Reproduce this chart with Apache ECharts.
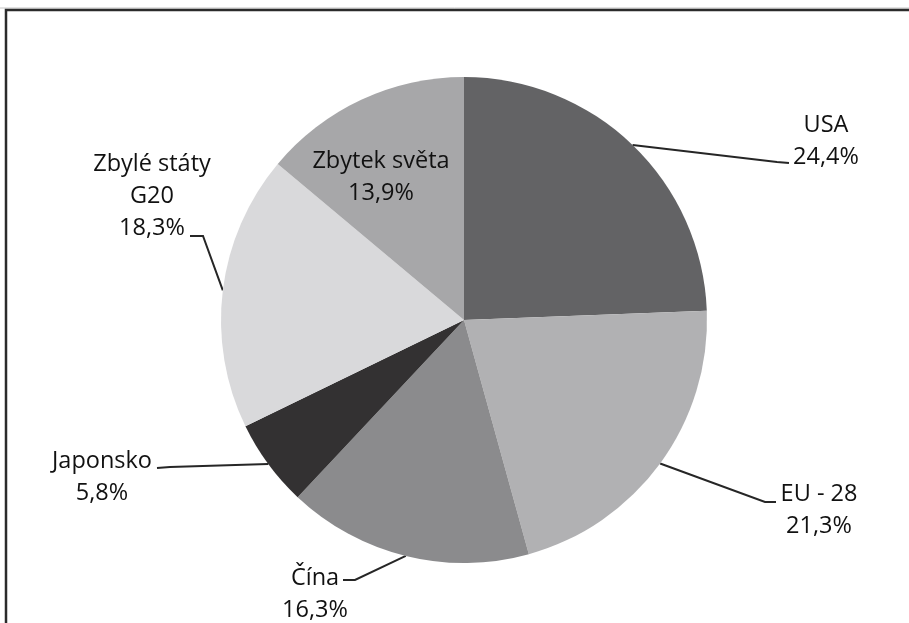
<!DOCTYPE html>
<html>
<head>
<meta charset="utf-8">
<script src="https://cdn.jsdelivr.net/npm/echarts@6/dist/echarts.min.js"></script>
<style>
html,body{margin:0;padding:0;background:#fff;}
#main{width:909px;height:623px;}
</style>
</head>
<body>
<div id="main"></div>
<script>
// ---- data ----
const categories = ['USA', 'EU - 28', 'Čína', 'Japonsko', 'Zbylé státy\nG20', 'Zbytek světa'];
const shares = [24.4, 21.3, 16.3, 5.8, 18.3, 13.9];

// ---- styles / layout (kept separate from data) ----
const sliceColors = ['#636365', '#b1b1b3', '#8b8b8d', '#333132', '#d9d9db', '#a7a7a9'];
// label block centers and leader-line bend/end points
const labelPlacement = [
  { x: 826, y: 141, bend: [777, 162], end: [789, 163] },
  { x: 819, y: 510, bend: [765, 502], end: [776, 502] },
  { x: 315, y: 594, bend: [355, 580], end: [343, 580] },
  { x: 102, y: 477, bend: [170, 467], end: [157, 468] },
  { x: 152, y: 196, bend: [203, 236], end: [190, 236] },
  { x: 381, y: 177, inside: true }
];

const fmt = v => v.toFixed(1).replace('.', ',') + '%';

const pieData = categories.map((name, i) => ({
  name: name,
  value: shares[i],
  itemStyle: { color: sliceColors[i] },
  label: labelPlacement[i].inside ? { position: 'inside' } : undefined,
  labelLine: labelPlacement[i].inside ? { show: false } : undefined
}));

const chart = echarts.init(document.getElementById('main'), null, { renderer: 'canvas' });
chart.setOption({
  backgroundColor: '#ffffff',
  animation: false,
  graphic: [
    { type: 'line', shape: { x1: 0, y1: 8, x2: 909, y2: 8 }, style: { stroke: '#c4c4c4', lineWidth: 1 }, silent: true },
    { type: 'rect', shape: { x: 6, y: 10, width: 1000, height: 1000 }, style: { fill: 'none', stroke: '#2b2b2b', lineWidth: 2.5 }, silent: true }
  ],
  series: [{
    type: 'pie',
    center: [464, 320],
    radius: [0, 243],
    startAngle: 90,
    clockwise: true,
    data: pieData,
    label: {
      show: true,
      position: 'outside',
      formatter: p => p.name + '\n' + fmt(p.value),
      fontFamily: 'Open Sans',
      fontSize: 23.5,
      lineHeight: 32,
      color: '#111111',
      align: 'center'
    },
    labelLine: {
      show: true,
      length: 20,
      length2: 10,
      lineStyle: { color: '#262626', width: 2 }
    },
    labelLayout: function (params) {
      const lp = labelPlacement[params.dataIndex];
      const out = { x: lp.x, y: lp.y, align: 'center', verticalAlign: 'middle' };
      if (!lp.inside && params.labelLinePoints && params.labelLinePoints[0]) {
        out.labelLinePoints = [params.labelLinePoints[0], lp.bend, lp.end];
      }
      return out;
    },
    emphasis: { disabled: true }
  }]
});
</script>
</body>
</html>
